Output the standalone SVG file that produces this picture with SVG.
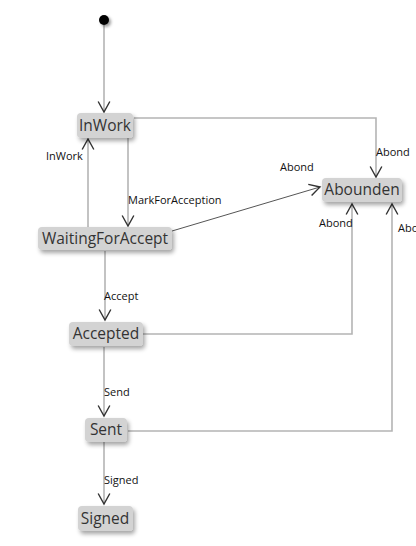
<svg xmlns="http://www.w3.org/2000/svg" width="416" height="546" viewBox="0 0 416 546">
<style>
.node{fill:#d3d3d3;filter:url(#sh)}
.nt{font-family:"Open Sans","Liberation Sans",sans-serif;font-size:15.5px;fill:#333;text-anchor:middle}
.lb{font-family:"Open Sans","Liberation Sans",sans-serif;font-size:11px;fill:#111}
.e{fill:none;stroke:#b4b4b4;stroke-width:1.6;marker-end:url(#ar)}
.e2{fill:none;stroke:#555;stroke-width:1;marker-end:url(#ar)}
</style>
<defs>
<filter id="sh" x="-20%" y="-30%" width="150%" height="180%">
<feDropShadow dx="2" dy="3" stdDeviation="2" flood-color="#000" flood-opacity="0.35"/>
</filter>
<filter id="dsh" x="-100%" y="-100%" width="300%" height="300%">
<feDropShadow dx="2" dy="2" stdDeviation="1.5" flood-color="#000" flood-opacity="0.4"/>
</filter>
<marker id="ar" markerUnits="userSpaceOnUse" markerWidth="14" markerHeight="14" viewBox="-1 -1 12 12" refX="9" refY="5" orient="auto">
<path d="M0,0 L9,5 L0,10" fill="none" stroke="#333" stroke-width="1.2"/>
</marker>
</defs>
<g id="connectors">
<path class="e" d="M104,25 V112"/>
<path class="e" d="M134,118 H376 V177"/>
<path class="e" d="M128,138 V226"/>
<path class="e" d="M88,227 V139"/>
<path class="e2" d="M172,231 L320,187"/>
<path class="e" d="M105,251 V320"/>
<path class="e" d="M143,334 H352 V204"/>
<path class="e" d="M104,347 V416"/>
<path class="e" d="M128,431 H392 V204"/>
<path class="e" d="M104,442 V504"/>
</g>
<g id="labels">
<text class="lb" x="46" y="160">InWork</text>
<text class="lb" x="128" y="204">MarkForAcception</text>
<text class="lb" x="280" y="171">Abond</text>
<text class="lb" x="376" y="156">Abond</text>
<text class="lb" x="319" y="227">Abond</text>
<text class="lb" x="398" y="232">Abond</text>
<text class="lb" x="104" y="300">Accept</text>
<text class="lb" x="104" y="396">Send</text>
<text class="lb" x="104" y="484">Signed</text>
</g>
<g id="start"><circle cx="104" cy="20" r="5" fill="#000" filter="url(#dsh)"/></g>
<g id="InWork"><rect class="node" x="77" y="113" width="56" height="25" rx="4"/><text class="nt" x="105" y="131">InWork</text></g>
<g id="WaitingForAccept"><rect class="node" x="38" y="227" width="134" height="23" rx="4"/><text class="nt" x="105" y="244">WaitingForAccept</text></g>
<g id="Abounden"><rect class="node" x="322" y="178" width="80" height="24" rx="4"/><text class="nt" x="362" y="195">Abounden</text></g>
<g id="Accepted"><rect class="node" x="69" y="322" width="74" height="24" rx="4"/><text class="nt" x="106" y="339">Accepted</text></g>
<g id="Sent"><rect class="node" x="85" y="418" width="42" height="24" rx="4"/><text class="nt" x="106" y="435">Sent</text></g>
<g id="Signed"><rect class="node" x="78" y="506" width="55" height="25" rx="4"/><text class="nt" x="105" y="524">Signed</text></g>
</svg>
